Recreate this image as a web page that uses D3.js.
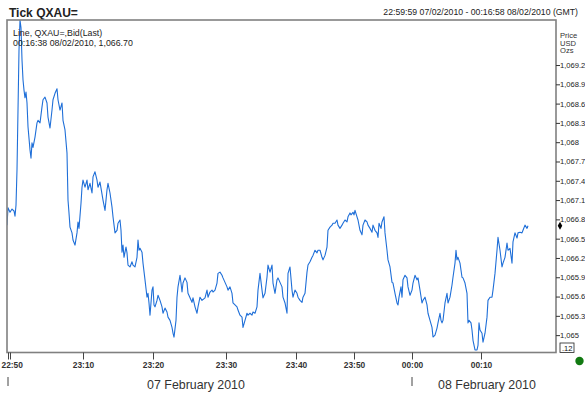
<!DOCTYPE html>
<html>
<head>
<meta charset="utf-8">
<script src="https://cdn.jsdelivr.net/npm/d3@7"></script>
<style>
  body { margin: 0; background: #fff; }
  svg { display: block; font-family: Arial, "Liberation Sans", sans-serif; }
</style>
</head>
<body>
<svg width="585" height="395"></svg>
<script>
// tick sequence number (x) and bid price for each sampled tick
var seq = [0,1,3,5,7,8,9,10,11,12,13,14,15,16,17,18,19,20,21,23,24,25,26,28,30,31,33,35,36,38,40,41,43,45,46,48,50,51,53,55,56,58,60,61,62,63,65,66,68,70,71,72,74,75,76,78,80,81,83,85,86,88,90,91,93,96,98,100,101,103,105,106,108,110,111,113,114,115,116,117,119,120,121,123,125,126,128,130,131,132,133,135,136,138,140,141,142,143,145,146,147,148,150,151,153,155,156,158,160,161,163,165,166,167,169,170,171,173,174,175,176,178,180,181,183,185,186,188,190,191,193,195,198,200,201,203,205,206,208,210,211,213,215,216,218,220,221,223,225,226,228,230,231,233,235,236,238,240,241,243,245,246,248,250,251,253,255,256,258,260,261,263,265,266,268,270,271,273,275,276,278,280,281,283,285,286,288,290,291,293,295,296,298,300,301,303,305,306,308,310,311,313,315,316,318,320,321,323,325,326,328,330,331,333,335,336,338,340,341,343,344,346,347,348,350,351,353,355,356,358,360,361,363,365,366,368,370,371,372,374,375,377,378,380,381,383,385,386,388,390,391,392,394,395,396,398,400,401,403,405,406,408,410,411,413,415,416,418,420,421,423,425,426,428,430,431,433,434,435,436,438,440,441,443,445,446,448,449,450,451,453,455,456,458,460,461,462,464,465,466,468,470,471,472,473,475,476,478,480,481,483,485,486,488,490,491,493,495,496,498,500,501,503,505,506,508,510,511,513,515,516,518,520,521];
var prices = [1066.71,1066.98,1066.91,1066.96,1066.93,1066.85,1067.02,1067.57,1068.50,1069.43,1069.90,1069.78,1069.28,1068.97,1068.81,1068.69,1068.78,1068.61,1068.24,1067.88,1067.75,1067.99,1067.92,1068.08,1068.30,1068.34,1068.30,1068.55,1068.66,1068.70,1068.61,1068.39,1068.22,1068.50,1068.66,1068.76,1068.83,1068.66,1068.50,1068.61,1068.34,1068.19,1067.83,1067.10,1066.90,1066.68,1066.59,1066.48,1066.40,1066.59,1066.76,1066.66,1067.05,1067.30,1067.41,1067.30,1067.41,1067.26,1067.36,1067.21,1067.46,1067.54,1067.41,1067.30,1067.38,1067.10,1066.94,1067.26,1067.36,1067.21,1066.99,1066.84,1066.59,1066.63,1066.74,1066.79,1066.63,1066.29,1066.40,1066.21,1066.37,1066.28,1066.09,1066.06,1066.14,1066.09,1066.06,1066.21,1066.48,1066.32,1066.35,1066.29,1066.12,1065.86,1065.59,1065.65,1065.50,1065.31,1065.70,1065.75,1065.47,1065.44,1065.54,1065.62,1065.54,1065.44,1065.34,1065.42,1065.36,1065.28,1065.23,1065.12,1065.03,1064.97,1065.23,1065.59,1065.75,1065.93,1065.81,1065.67,1065.81,1065.89,1065.82,1065.65,1065.58,1065.51,1065.58,1065.44,1065.34,1065.44,1065.59,1065.54,1065.58,1065.70,1065.59,1065.67,1065.70,1065.67,1065.70,1065.81,1065.96,1065.98,1065.93,1065.89,1065.82,1065.75,1065.70,1065.75,1065.65,1065.50,1065.47,1065.44,1065.39,1065.31,1065.28,1065.12,1065.23,1065.34,1065.31,1065.34,1065.31,1065.36,1065.34,1065.44,1065.70,1065.96,1065.70,1065.58,1065.65,1065.90,1066.09,1065.98,1066.09,1065.81,1065.65,1065.86,1065.89,1065.82,1065.75,1065.59,1065.50,1065.34,1065.96,1066.06,1065.70,1065.59,1065.70,1065.65,1065.59,1065.54,1065.51,1065.59,1065.65,1065.98,1066.09,1066.14,1066.21,1066.24,1066.32,1066.28,1066.32,1066.32,1066.21,1066.17,1066.24,1066.37,1066.63,1066.68,1066.71,1066.74,1066.74,1066.79,1066.71,1066.66,1066.71,1066.74,1066.79,1066.76,1066.84,1066.90,1066.87,1066.91,1066.87,1066.94,1066.84,1066.79,1066.63,1066.56,1066.71,1066.79,1066.76,1066.71,1066.66,1066.60,1066.71,1066.63,1066.59,1066.52,1066.74,1066.66,1066.76,1066.84,1066.59,1066.32,1066.17,1066.06,1065.82,1065.81,1065.65,1065.50,1065.47,1065.59,1065.75,1065.59,1065.86,1065.93,1065.89,1065.75,1065.62,1065.70,1065.81,1065.93,1065.86,1065.89,1065.70,1065.50,1065.54,1065.59,1065.47,1065.34,1065.23,1065.12,1064.97,1065.00,1065.11,1065.19,1065.34,1065.23,1065.19,1065.23,1065.50,1065.65,1065.50,1065.59,1065.78,1065.90,1066.12,1066.32,1066.17,1066.21,1066.12,1065.90,1065.89,1065.81,1065.65,1065.19,1065.23,1065.19,1065.08,1064.92,1064.77,1064.77,1064.84,1065.19,1065.08,1065.03,1064.89,1065.03,1065.28,1065.54,1065.59,1065.59,1065.70,1065.96,1066.32,1066.52,1066.32,1066.06,1066.12,1066.21,1066.43,1066.32,1066.35,1066.12,1066.45,1066.59,1066.51,1066.59,1066.60,1066.59,1066.63,1066.71,1066.66,1066.70];

// time axis labels, placed at the tick sequence where that time occurs
var timeTicks = [1, 3, 76, 146, 219, 289, 347, 405, 474];
var timeLabels = ["22:50", "", "23:10", "23:20", "23:30", "23:40", "23:50", "00:00", "00:10"];
var dayTicks = [1, 405];
var dayLabelPos = [189, 480];
var dayLabels = ["07 February 2010", "08 February 2010"];

var priceTicks = [1065, 1065.3, 1065.6, 1065.9, 1066.2, 1066.5, 1066.8, 1067.1, 1067.4, 1067.7, 1068, 1068.3, 1068.6, 1068.9, 1069.2];
var priceDomain = [1064.73, 1069.9];

var svg = d3.select("svg");
var plotL = 7, plotR = 556, plotT = 20, plotB = 352.5;

var x = d3.scaleLinear().domain([0, d3.max(seq)]).range([plotL, 528]);
var y = d3.scaleLinear().domain(priceDomain).range([plotB, plotT]);

// title + time range
svg.append("text").attr("x", 9).attr("y", 17)
    .attr("font-size", 12).attr("font-weight", "bold").attr("fill", "#222")
    .text("Tick QXAU=");
svg.append("text").attr("x", 578).attr("y", 15).attr("text-anchor", "end")
    .attr("font-size", 8.7).attr("fill", "#222")
    .text("22:59:59 07/02/2010  - 00:16:58 08/02/2010 (GMT)");

// plot clip
svg.append("clipPath").attr("id", "plot")
    .append("rect").attr("x", plotL).attr("y", plotT)
    .attr("width", plotR - plotL).attr("height", plotB - plotT);

var line = d3.line()
    .x(function (d, i) { return x(seq[i]); })
    .y(function (d) { return y(d); });

svg.append("path")
    .datum(prices)
    .attr("clip-path", "url(#plot)")
    .attr("fill", "none")
    .attr("stroke", "#1f6fd8")
    .attr("stroke-width", 1.1)
    .attr("stroke-linejoin", "round")
    .attr("d", line);

// frame
svg.append("rect").attr("x", plotL).attr("y", plotT)
    .attr("width", plotR - plotL).attr("height", plotB - plotT)
    .attr("fill", "none").attr("stroke", "#808080").attr("stroke-width", 1.6);

// legend
var last = prices[prices.length - 1];
svg.append("text").attr("x", 13).attr("y", 36).attr("font-size", 8.8).attr("fill", "#222")
    .text("Line, QXAU=,Bid(Last)");
svg.append("text").attr("x", 13).attr("y", 46).attr("font-size", 8.8).attr("fill", "#222")
    .text("00:16:38 08/02/2010, " + d3.format(",.2f")(last));

// right price axis
var ya = svg.append("g")
    .attr("transform", "translate(" + plotR + ",0)")
    .call(d3.axisRight(y).tickValues(priceTicks).tickSize(4).tickPadding(0).tickFormat(d3.format(",")));
ya.select(".domain").remove();
ya.selectAll("line").attr("stroke", "#333");
ya.selectAll("text").attr("font-size", 7.6).attr("fill", "#222").attr("font-family", null);

["Price", "USD", "Ozs"].forEach(function (t, i) {
    svg.append("text").attr("x", 560).attr("y", 38 + i * 7.5)
        .attr("font-size", 7.6).attr("fill", "#333").text(t);
});

svg.append("path")
    .attr("transform", "translate(" + 560 + "," + y(last) + ")")
    .attr("d", d3.symbol(d3.symbolDiamond, 18))
    .attr("fill", "#000");

svg.append("rect").attr("x", 560).attr("y", 343).attr("width", 14).attr("height", 9.5)
    .attr("fill", "#fff").attr("stroke", "#222").attr("stroke-width", 0.8);
svg.append("text").attr("x", 562).attr("y", 350.5).attr("font-size", 7.6).attr("fill", "#111").text(".12");
svg.append("circle").attr("cx", 579.5).attr("cy", 361).attr("r", 4.2).attr("fill", "#127a12");

// bottom time axis
var xa = svg.append("g")
    .attr("transform", "translate(0," + plotB + ")")
    .call(d3.axisBottom(x).tickValues(timeTicks).tickSize(7).tickPadding(3)
        .tickFormat(function (d, i) { return timeLabels[i]; }));
xa.select(".domain").remove();
xa.selectAll("line").attr("stroke", "#444");
xa.selectAll("text").attr("font-size", 8.4).attr("font-weight", "bold").attr("fill", "#333").attr("font-family", null);
xa.selectAll(".tick").filter(function (d) { return d === timeTicks[0]; })
    .select("text").attr("text-anchor", "start").attr("x", -7);

// day separators and labels
svg.selectAll(".daytick").data(dayTicks).enter().append("line")
    .attr("x1", function (d) { return x(d); }).attr("x2", function (d) { return x(d); })
    .attr("y1", 377).attr("y2", 386).attr("stroke", "#444");
svg.selectAll(".daylabel").data(dayLabels).enter().append("text")
    .attr("x", function (d, i) { return x(dayLabelPos[i]); }).attr("y", 389)
    .attr("text-anchor", "middle").attr("font-size", 12.4).attr("fill", "#333")
    .text(function (d) { return d; });
</script>
</body>
</html>
